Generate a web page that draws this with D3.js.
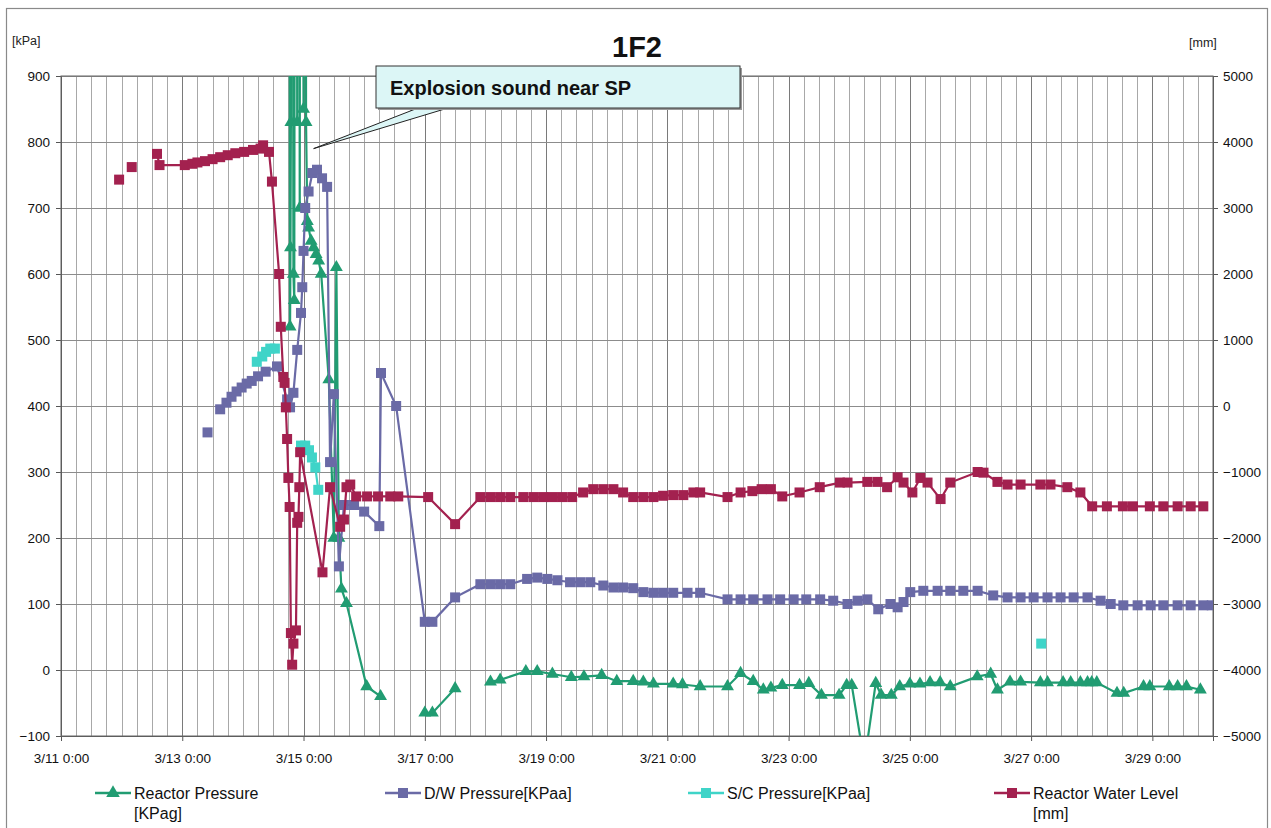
<!DOCTYPE html>
<html><head><meta charset="utf-8">
<script src="https://cdn.jsdelivr.net/npm/d3@7"></script>
<style>
body{margin:0;background:#fff;}
svg{display:block;font-family:"Liberation Sans",Arial,sans-serif;}
</style></head>
<body><svg id="c" width="1271" height="828"></svg>
<script>
// ---------------- DATA ----------------
const title = "1F2";
const leftUnit = "[kPa]", rightUnit = "[mm]";
const xTickLabels = ["3/11 0:00","3/13 0:00","3/15 0:00","3/17 0:00","3/19 0:00","3/21 0:00","3/23 0:00","3/25 0:00","3/27 0:00","3/29 0:00"];
const leftTicks = [-100,0,100,200,300,400,500,600,700,800,900];
const rightTicks = [-5000,-4000,-3000,-2000,-1000,0,1000,2000,3000,4000,5000];
const annotationText = "Explosion sound near SP";
const annotationAt = ["3/15 4:00", 790];

// Reactor Pressure [KPag]  (null = gap)
const rpTimes = ["3/14 17:00","3/14 18:40","3/14 18:50","3/14 19:00","3/14 19:10","3/14 20:00","3/14 20:20","3/14 21:00","3/14 21:30","3/14 22:00","3/14 22:30","3/14 23:00","3/15 0:00","3/15 0:30","3/15 1:00","3/15 1:30","3/15 2:00","3/15 3:00","3/15 4:00","3/15 5:00","3/15 6:00","3/15 7:00","3/15 10:00","3/15 12:00","3/15 13:00","3/15 14:00","3/15 15:00","3/15 17:00","3/16 1:00","3/16 6:30",null,
  "3/17 0:00","3/17 3:00","3/17 12:00",null,
  "3/18 2:00","3/18 5:50","3/18 16:00","3/18 20:30","3/19 2:30","3/19 10:00","3/19 15:00","3/19 22:00","3/20 4:00","3/20 10:30","3/20 14:30","3/20 18:30","3/21 2:20","3/21 6:00","3/21 13:00","3/21 23:50","3/22 5:00","3/22 10:00","3/22 14:00","3/22 17:00","3/22 21:30","3/23 4:20","3/23 8:00","3/23 13:00","3/23 20:00","3/23 23:00","3/24 1:00","3/24 6:00","3/24 10:30","3/24 12:40","3/24 16:40","3/24 20:00","3/25 0:00","3/25 4:00","3/25 8:00","3/25 12:00","3/25 16:00","3/26 2:40","3/26 8:00","3/26 10:40","3/26 15:40","3/26 19:50","3/27 3:40","3/27 6:30","3/27 12:40","3/27 15:40","3/27 19:30","3/27 22:20","3/28 0:00","3/28 2:00","3/28 10:00","3/28 12:40","3/28 20:30","3/28 23:00","3/29 6:40","3/29 10:00","3/29 13:30","3/29 19:00"];
const rpValues = [6000,520,640,830,3000,600,560,3000,830,3000,700,3000,850,3000,830,680,670,650,640,630,620,600,440,200,610,200,123,101,-25,-40,null,
  -65,-65,-28,null,
  -18,-15,-2,-2,-6,-11,-10,-8,-17,-17,-18,-21,-21,-22,-25,-25,-5,-17,-30,-27,-23,-23,-20,-38,-38,-23,-23,-140,-20,-38,-38,-25,-21,-21,-19,-19,-25,-10,-6,-30,-18,-18,-19,-19,-19,-19,-19,-19,-19,-19,-35,-35,-25,-25,-25,-25,-25,-30];

// D/W Pressure [KPaa]
const dwTimes = ["3/13 10:00",null,"3/13 15:00","3/13 17:30","3/13 19:30","3/13 21:30","3/13 23:30","3/14 1:30","3/14 3:30","3/14 6:00","3/14 9:00","3/14 13:30","3/14 17:30","3/14 18:40","3/14 20:00","3/14 21:30","3/14 23:00","3/14 23:30","3/15 0:00","3/15 0:40","3/15 2:00","3/15 3:30","3/15 5:20","3/15 7:20","3/15 9:20","3/15 10:30","3/15 12:00","3/15 14:00","3/15 16:00","3/15 20:00","3/16 0:00","3/16 6:00","3/16 6:40","3/16 12:40","3/17 0:00","3/17 3:00","3/17 12:00","3/17 22:00","3/18 2:00","3/18 5:50","3/18 9:50","3/18 16:30","3/18 20:30","3/19 0:30","3/19 4:30","3/19 9:30","3/19 13:30","3/19 17:30","3/19 22:40","3/20 2:40","3/20 6:30","3/20 10:30","3/20 14:30","3/20 18:30","3/20 22:20","3/21 2:20","3/21 8:00","3/21 13:00","3/21 23:50","3/22 5:00","3/22 10:00","3/22 15:40","3/22 20:40","3/23 2:00","3/23 7:00","3/23 12:30","3/23 17:40","3/23 23:20","3/24 3:20","3/24 7:10","3/24 11:30","3/24 16:20","3/24 19:10","3/24 21:30","3/25 0:10","3/25 5:20","3/25 11:00","3/25 16:00","3/25 21:10","3/26 2:50","3/26 9:00","3/26 14:40","3/26 19:50","3/27 1:00","3/27 6:30","3/27 11:40","3/27 16:50","3/27 22:20","3/28 3:30","3/28 7:30","3/28 12:30","3/28 18:10","3/28 23:20","3/29 4:20","3/29 10:00","3/29 15:10","3/29 20:10","3/29 23:30"];
const dwValues = [360,null,395,405,414,422,428,434,438,445,452,460,410,398,420,485,541,580,635,700,725,753,758,745,732,315,418,157,250,250,240,218,450,400,73,73,110,130,130,130,130,138,140,138,136,133,133,133,128,125,125,124,118,117,117,117,117,117,107,107,107,107,107,107,107,107,105,100,105,107,92,100,95,103,118,120,120,120,120,120,113,110,110,110,110,110,110,110,105,100,98,98,98,98,98,98,98,98];

// S/C Pressure [KPaa]
const scTimes = ["3/14 5:30","3/14 7:40","3/14 9:10","3/14 10:50","3/14 12:40",null,"3/14 23:00","3/15 0:40","3/15 2:10","3/15 3:20","3/15 4:40","3/15 5:50",null,"3/27 4:00"];
const scValues = [467,475,482,487,487,null,340,340,333,322,307,273,null,40];

// Reactor Water Level [mm]
const wlTimes = ["3/11 23:00",null,"3/12 4:00",null,"3/12 14:00","3/12 15:00","3/13 1:00","3/13 4:00","3/13 6:00","3/13 9:00","3/13 12:00","3/13 15:00","3/13 18:00","3/13 21:00","3/14 0:30","3/14 4:00","3/14 7:00","3/14 8:00","3/14 10:20","3/14 11:30","3/14 14:20","3/14 15:00","3/14 16:00","3/14 16:30","3/14 17:00","3/14 17:30","3/14 18:00","3/14 18:30","3/14 19:00","3/14 19:30","3/14 20:00","3/14 21:00","3/14 21:30","3/14 22:00","3/14 22:20","3/14 22:40","3/15 7:30","3/15 10:30","3/15 14:30","3/15 16:00","3/15 17:00","3/15 18:30","3/15 20:50","3/16 1:10","3/16 5:30","3/16 10:20","3/16 13:30","3/17 1:20","3/17 12:00","3/17 22:00","3/18 2:00","3/18 5:50","3/18 9:50","3/18 15:00","3/18 19:00","3/18 22:50","3/19 2:30","3/19 6:20","3/19 10:20","3/19 14:40","3/19 18:40","3/19 22:40","3/20 2:40","3/20 6:30","3/20 10:30","3/20 14:30","3/20 18:30","3/20 22:20","3/21 2:20","3/21 6:20","3/21 10:20","3/21 13:00","3/21 23:50","3/22 5:00","3/22 9:40","3/22 13:20","3/22 17:00","3/22 21:30","3/23 4:20","3/23 12:20","3/23 20:20","3/23 23:20","3/24 7:10","3/24 11:10","3/24 15:00","3/24 19:10","3/24 21:30","3/25 1:00","3/25 4:10","3/25 7:00","3/25 12:10","3/25 16:00","3/26 2:50","3/26 5:10","3/26 10:40","3/26 14:40","3/26 19:50","3/27 3:40","3/27 7:40","3/27 14:20","3/27 19:30","3/28 0:10","3/28 6:00","3/28 12:20","3/28 16:20","3/28 23:00","3/29 4:20","3/29 10:00","3/29 15:10","3/29 20:10"];
const wlValues = [3430,null,3620,null,3820,3650,3650,3670,3690,3710,3740,3770,3800,3830,3850,3880,3900,3950,3850,3400,2000,1200,440,350,-20,-500,-1090,-1530,-3440,-3920,-3600,-3400,-1770,-1680,-1230,-700,-2520,-1230,-1830,-1720,-1230,-1190,-1370,-1370,-1370,-1370,-1370,-1380,-1790,-1380,-1380,-1380,-1380,-1380,-1380,-1380,-1380,-1380,-1380,-1310,-1260,-1260,-1260,-1310,-1380,-1380,-1380,-1360,-1350,-1350,-1310,-1310,-1380,-1310,-1290,-1260,-1260,-1370,-1310,-1230,-1160,-1160,-1150,-1150,-1230,-1080,-1160,-1310,-1090,-1160,-1410,-1160,-1000,-1010,-1150,-1190,-1190,-1190,-1190,-1230,-1310,-1520,-1520,-1520,-1520,-1520,-1520,-1520,-1520,-1520];

const seriesNames = ["Reactor Pressure\n[KPag]","D/W Pressure[KPaa]","S/C Pressure[KPaa]","Reactor Water Level\n[mm]"];
const seriesColors = ["#219c72","#6a6aa6","#3fd4c8","#a3214f"];

// ---------------- CHART ----------------
function parseT(s){ if(!s) return null; const [md,hm]=s.split(" "); const [m,d]=md.split("/").map(Number); const [h,mi]=hm.split(":").map(Number); return new Date(2011,m-1,d,h,mi); }
const L=61,R=1213,T=76,B=736;
const svg=d3.select("#c");
svg.append("rect").attr("x",6.5).attr("y",8.5).attr("width",1261).attr("height",830).attr("fill","#fff").attr("stroke","#8a8a8a").attr("stroke-width",1.2);

const x=d3.scaleTime().domain([new Date(2011,2,11),new Date(2011,2,30)]).range([L,R]);
const yL=d3.scaleLinear().domain([-100,900]).range([B,T]);
const yR=d3.scaleLinear().domain([-5000,5000]).range([B,T]);

// gridlines
const g=svg.append("g");
const minor=d3.timeHour.every(6).range(new Date(2011,2,11,6),new Date(2011,2,30));
g.selectAll("line.vg").data(minor).join("line")
 .attr("x1",d=>Math.round(x(d))+0.5).attr("x2",d=>Math.round(x(d))+0.5).attr("y1",T).attr("y2",B)
 .attr("stroke",d=>(d.getHours()===0 && (d.getDate()-11)%2===0)?"#7a7a7a":"#a8a8a8").attr("stroke-width",1);
g.selectAll("line.hg").data(leftTicks).join("line")
 .attr("x1",L).attr("x2",R).attr("y1",d=>Math.round(yL(d))+0.5).attr("y2",d=>Math.round(yL(d))+0.5)
 .attr("stroke","#8c8c8c").attr("stroke-width",1);

// axes
const xTickDates=xTickLabels.map(parseT);
const ax=svg.append("g").attr("transform",`translate(0,${B})`)
 .call(d3.axisBottom(x).tickValues(xTickDates).tickFormat((d,i)=>xTickLabels[i]).tickSize(5).tickPadding(12));
const ayl=svg.append("g").attr("transform",`translate(${L},0)`).call(d3.axisLeft(yL).tickValues(leftTicks).tickFormat(d3.format("d")).tickSize(5).tickPadding(6));
const ayr=svg.append("g").attr("transform",`translate(${R},0)`).call(d3.axisRight(yR).tickValues(rightTicks).tickFormat(d3.format("d")).tickSize(5).tickPadding(5));
[ax,ayl,ayr].forEach(a=>{a.select(".domain").attr("stroke","#555");a.selectAll(".tick line").attr("stroke","#555");
 a.selectAll("text").attr("font-size",13.5).attr("fill","#111").attr("font-family","'Liberation Sans',Arial,sans-serif");});
svg.append("rect").attr("x",L).attr("y",T).attr("width",R-L).attr("height",B-T).attr("fill","none").attr("stroke","#666");

// clip
svg.append("defs").append("clipPath").attr("id","pc").append("rect").attr("x",L).attr("y",T).attr("width",R-L).attr("height",B-T);
const plot=svg.append("g").attr("clip-path","url(#pc)");

function mk(times,vals,ys){ return times.map((t,i)=>({t:parseT(t),v:vals[i]})).map(d=>({x:d.t?x(d.t):null,y:d.v==null?null:ys(d.v),ok:d.v!=null&&d.t!=null})); }
const series=[
 {pts:mk(rpTimes,rpValues,yL),c:seriesColors[0],m:"tri"},
 {pts:mk(dwTimes,dwValues,yL),c:seriesColors[1],m:"sq"},
 {pts:mk(scTimes,scValues,yL),c:seriesColors[2],m:"sq"},
 {pts:mk(wlTimes,wlValues,yR),c:seriesColors[3],m:"sq"}
];
const line=d3.line().defined(d=>d.ok).x(d=>d.x).y(d=>d.y);
const triSym=d3.symbol().type(d3.symbolTriangle).size(72);
function drawMarkers(sel,type,color,pts){
 if(type==="sq"){
  sel.selectAll("rect").data(pts.filter(d=>d.ok)).join("rect")
   .attr("x",d=>d.x-5).attr("y",d=>d.y-5).attr("width",10).attr("height",10).attr("fill",color);
 } else {
  sel.selectAll("path").data(pts.filter(d=>d.ok)).join("path")
   .attr("d",triSym()).attr("transform",d=>`translate(${d.x},${d.y})`).attr("fill",color);
 }
}
series.forEach(s=>{
 const gg=plot.append("g");
 gg.append("path").datum(s.pts).attr("d",line).attr("fill","none").attr("stroke",s.c).attr("stroke-width",2.2);
 drawMarkers(gg.append("g"),s.m,s.c,s.pts);
});

// title & units
svg.append("text").attr("x",637).attr("y",57).attr("text-anchor","middle").attr("font-size",29).attr("font-weight","bold").attr("fill","#111").text(title);
svg.append("text").attr("x",12).attr("y",45).attr("font-size",12.5).attr("fill","#222").text(leftUnit);
svg.append("text").attr("x",1189).attr("y",47).attr("font-size",12.5).attr("fill","#222").text(rightUnit);

// callout
const tipX=x(parseT(annotationAt[0])), tipY=yL(annotationAt[1]);
const bx=376,by=66,bw=364,bh=42;
svg.append("path").attr("d",`M${bx+42},${by+bh} L${tipX},${tipY} L${bx+72},${by+bh} Z`).attr("fill","#dcf6f6").attr("stroke","#222").attr("stroke-width",1);
svg.append("rect").attr("x",bx+2).attr("y",by+2).attr("width",bw).attr("height",bh).attr("fill","#9a9a9a");
svg.append("rect").attr("x",bx).attr("y",by).attr("width",bw).attr("height",bh).attr("fill","#dcf6f6").attr("stroke","#333").attr("stroke-width",1);
svg.append("text").attr("x",bx+14).attr("y",by+29).attr("font-size",20).attr("font-weight","bold").attr("fill","#111").text(annotationText);

// legend
const legX=[95,385,688,994];
const lg=svg.append("g");
seriesNames.forEach((n,i)=>{
 const lx=legX[i], ly=793;
 lg.append("line").attr("x1",lx).attr("x2",lx+36).attr("y1",ly).attr("y2",ly).attr("stroke",seriesColors[i]).attr("stroke-width",2.5);
 if(i===0) lg.append("path").attr("d",d3.symbol().type(d3.symbolTriangle).size(80)()).attr("transform",`translate(${lx+18},${ly})`).attr("fill",seriesColors[i]);
 else lg.append("rect").attr("x",lx+13).attr("y",ly-5).attr("width",10).attr("height",10).attr("fill",seriesColors[i]);
 const t=lg.append("text").attr("x",lx+39).attr("y",ly+6).attr("font-size",16).attr("fill","#111");
 n.split("\n").forEach((s,k)=>t.append("tspan").attr("x",lx+39).attr("dy",k?20:0).text(s));
});
</script></body></html>
